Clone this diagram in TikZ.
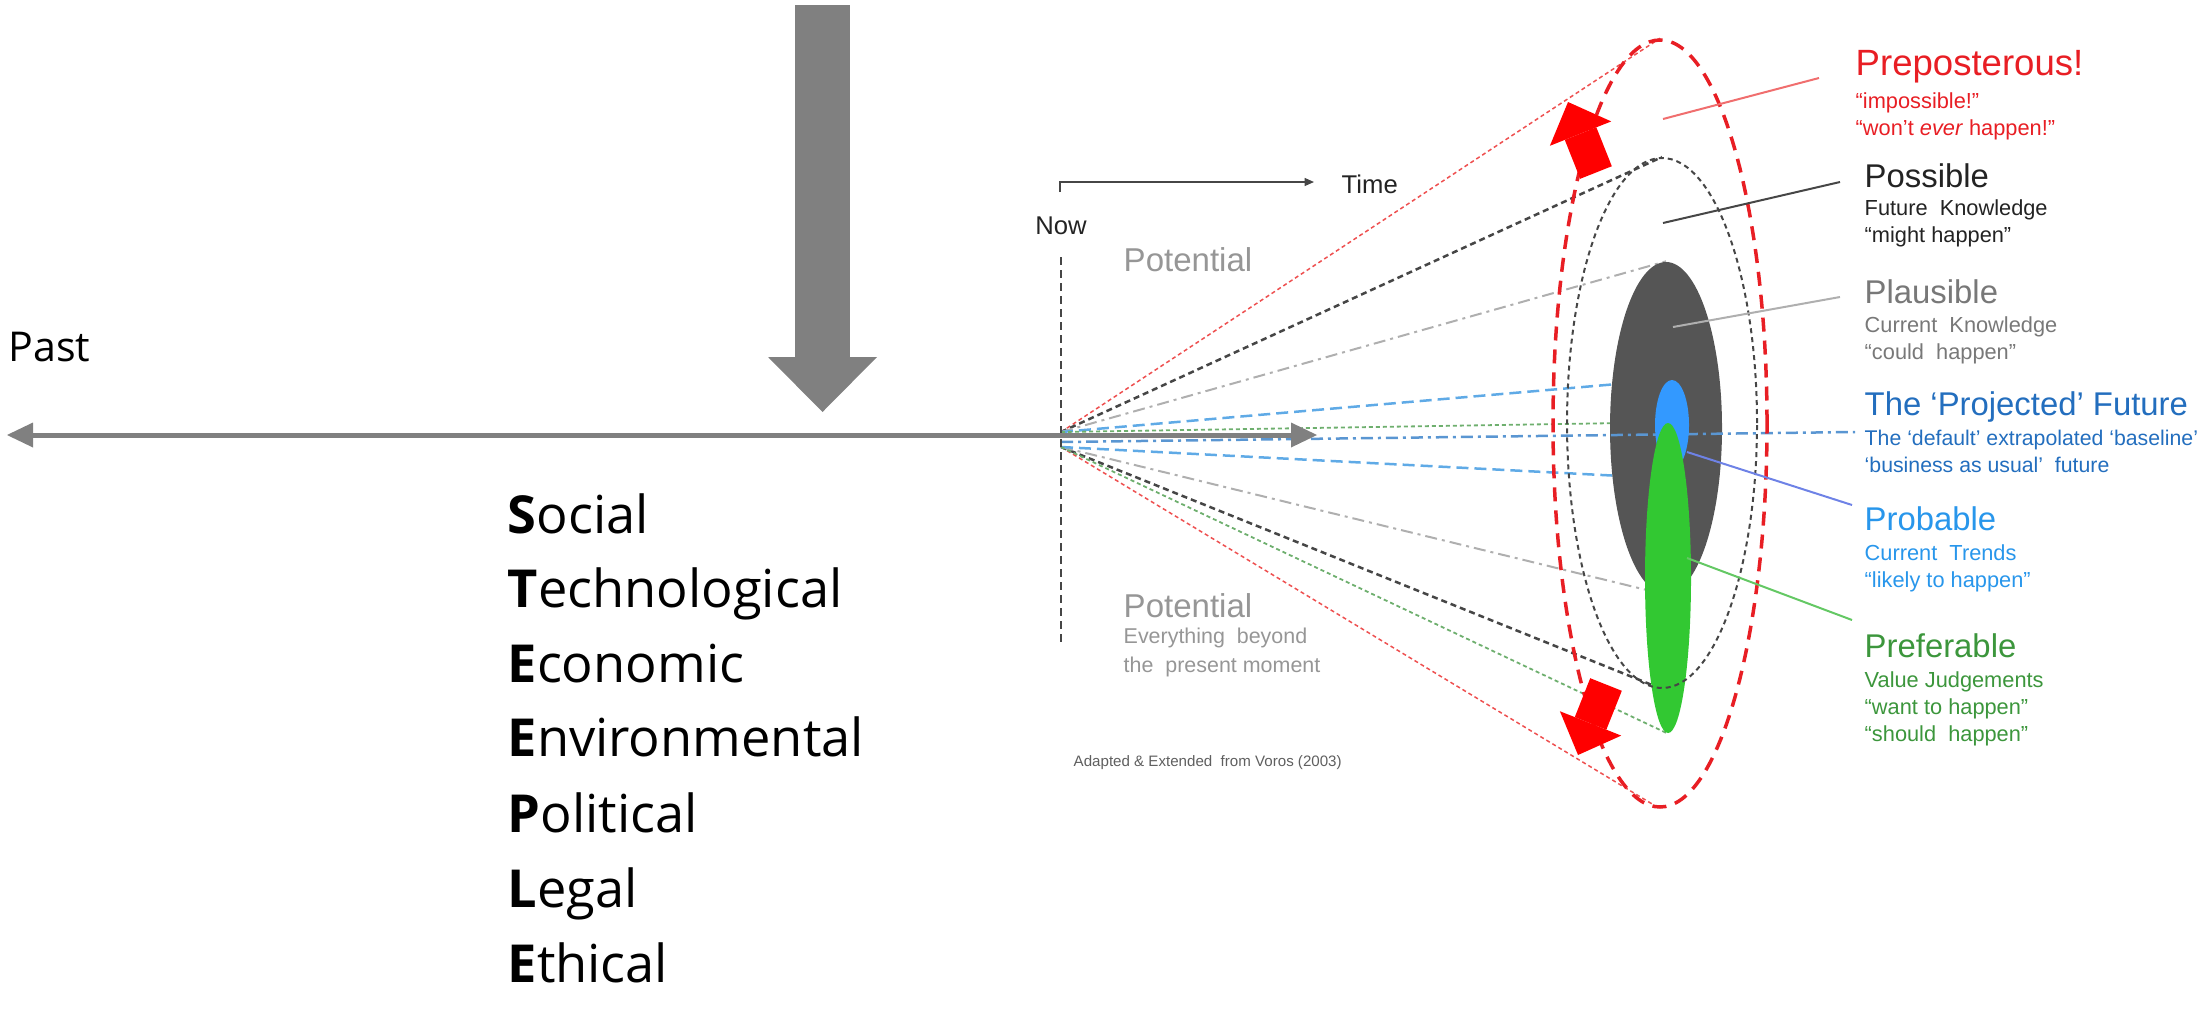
\documentclass[tikz,border=0pt]{standalone}
\usepackage{fontspec}
\setmainfont{Open Sans}
\newfontfamily\vorosfont{Liberation Sans}
\usetikzlibrary{shapes.geometric, arrows.meta, backgrounds}

\definecolor{axisgrey}{RGB}{128,128,128}
\definecolor{prepred}{RGB}{232,30,36}
\definecolor{leadred}{RGB}{240,110,110}
\definecolor{fanredc}{RGB}{238,80,80}
\definecolor{possdark}{RGB}{35,35,35}
\definecolor{fanblackc}{RGB}{70,70,70}
\definecolor{plausgrey}{RGB}{120,120,120}
\definecolor{fangreyc}{RGB}{175,175,175}
\definecolor{plausfill}{RGB}{85,85,85}
\definecolor{projblue}{RGB}{35,110,190}
\definecolor{probblue}{RGB}{40,150,235}
\definecolor{probfill}{RGB}{51,153,255}
\definecolor{fanbluec}{RGB}{95,170,230}
\definecolor{fanprojc}{RGB}{90,150,210}
\definecolor{leadblue}{RGB}{110,130,230}
\definecolor{prefgreen}{RGB}{60,150,60}
\definecolor{preffill}{RGB}{50,200,50}
\definecolor{fangreenc}{RGB}{110,175,110}
\definecolor{leadgreen}{RGB}{100,200,100}
\definecolor{potgrey}{RGB}{150,150,150}
\definecolor{creditgrey}{RGB}{95,95,95}

\tikzstyle{pastlabel} = [anchor=base west, inner sep=0pt, font=\fontsize{11.7}{14}\selectfont]
\tikzstyle{steeple} = [anchor=base west, inner sep=0pt, font=\fontsize{14.9}{18}\selectfont]
\tikzstyle{timeline} = [axisgrey, line width=0.5mm, arrows={Triangle[length=2.6mm,width=2.5mm,line width=0pt]-Triangle[length=2.6mm,width=2.5mm,line width=0pt]}]
\tikzstyle{timearrow} = [fanblackc, line width=0.15mm, -{Triangle[length=0.95mm,width=0.8mm]}]
\tikzstyle{conetext} = [inner sep=0pt, text=possdark, font=\vorosfont\fontsize{7.3}{9}\selectfont]
\tikzstyle{potential} = [anchor=base west, inner sep=0pt, text=potgrey, font=\vorosfont\fontsize{9.4}{11}\selectfont]
\tikzstyle{potentialsub} = [anchor=north west, inner sep=0pt, align=left, text=potgrey, font=\vorosfont\fontsize{6.1}{8.2}\selectfont]
\tikzstyle{credit} = [anchor=west, inner sep=0pt, text=creditgrey, font=\vorosfont\fontsize{4.3}{5}\selectfont]
\tikzstyle{heading} = [anchor=base west, inner sep=0pt, font=\vorosfont\fontsize{9.35}{11}\selectfont]
\tikzstyle{subtext} = [anchor=north west, inner sep=0pt, align=left, font=\vorosfont\fontsize{6.2}{7.6}\selectfont]
\tikzstyle{ring} = [ellipse, inner sep=0pt]
\tikzstyle{leader} = [line width=0.2mm]
\tikzstyle{fanred} = [fanredc, line width=0.15mm, dash pattern=on 0.4mm off 0.3mm]
\tikzstyle{fanblack} = [fanblackc, line width=0.25mm, dash pattern=on 0.6mm off 0.4mm]
\tikzstyle{fangrey} = [fangreyc, line width=0.2mm, dash pattern=on 1.2mm off 0.5mm on 0.3mm off 0.5mm]
\tikzstyle{fanblue} = [fanbluec, line width=0.25mm, dash pattern=on 1.2mm off 0.6mm]
\tikzstyle{fangreen} = [fangreenc, line width=0.18mm, dash pattern=on 0.4mm off 0.3mm]
\tikzstyle{fanproj} = [fanprojc, line width=0.25mm, dash pattern=on 1.2mm off 0.5mm on 0.3mm off 0.5mm]

\begin{document}
\begin{tikzpicture}[x=0.1mm, y=-0.1mm]
    \useasboundingbox (0,0) rectangle (2207,1015);

    % Coordinates
    \coordinate (pastend) at (7,435);
    \coordinate (nowend) at (1317,435);
    \coordinate (forcetop) at (822.5,5);
    \coordinate (forcetip) at (822.5,412);
    \coordinate (timetick) at (1060,192);
    \coordinate (timehead) at (1314,182);
    \coordinate (nowtop) at (1061,257);
    \coordinate (nowbottom) at (1061,645);
    \coordinate (originup) at (1061,432);
    \coordinate (originmid) at (1061,442);
    \coordinate (originlow) at (1061,447);
    \coordinate (projend) at (1855,432);
    \coordinate (probablelow) at (1660,478);
    \coordinate (uptail) at (1596,172.5);
    \coordinate (uptip) at (1568,102);
    \coordinate (downtail) at (1606,684.5);
    \coordinate (downtip) at (1578,755);

    % Nodes
    \node (past) [pastlabel] at (8,361) {Past};
    \node (social) [steeple] at (507,533) {\textbf{S}ocial};
    \node (technological) [steeple] at (507,607) {\textbf{T}echnological};
    \node (economic) [steeple] at (507,682) {\textbf{E}conomic};
    \node (environmental) [steeple] at (507,756) {\textbf{E}nvironmental};
    \node (political) [steeple] at (507,832) {\textbf{P}olitical};
    \node (legal) [steeple] at (507,907) {\textbf{L}egal};
    \node (ethical) [steeple] at (507,982) {\textbf{E}thical};

    \node (nowlbl) [conetext] at (1061,226) {Now};
    \node (timelbl) [conetext, anchor=west] at (1341,184) {Time};
    \node (potentialup) [potential] at (1123,271) {Potential};
    \node (potentiallow) [potential] at (1123,617) {Potential};
    \node (potentialsub) [potentialsub] at (1123,627.5) {Everything\ \ beyond\\the\ \ present moment};
    \node (voros) [credit] at (1073,763) {Adapted \& Extended\ \ from Voros (2003)};

    % Cone of futures
    \node (plausibleell) [ring, fill=plausfill, minimum width=11.2mm, minimum height=33.2mm] at (1666,428) {};
    \draw [fanproj] (originmid) -- (projend);
    \node (probableell) [ring, fill=probfill, minimum width=3.4mm, minimum height=9mm] at (1672,425) {};
    \node (preferableell) [ring, fill=preffill, minimum width=4.6mm, minimum height=31mm] at (1668,578) {};
    \node (possibleell) [ring, draw=fanblackc, line width=0.2mm, dash pattern=on 0.5mm off 0.4mm, minimum width=19mm, minimum height=53mm] at (1662,423) {};
    \node (preposterousell) [ring, draw=prepred, line width=0.35mm, dash pattern=on 1.4mm off 0.9mm, minimum width=21.4mm, minimum height=76.7mm] at (1660,423.5) {};

    % Labels
    \node (preposterous) [heading, text=prepred, font=\vorosfont\fontsize{10.4}{12}\selectfont] at (1855,75) {Preposterous!};
    \node (preposteroussub) [subtext, text=prepred] at (1855,92.3) {“impossible!”\\“won’t \textit{ever} happen!”};
    \node (possible) [heading, text=possdark] at (1864,187) {Possible};
    \node (possiblesub) [subtext, text=possdark] at (1864,199.3) {Future\ \ Knowledge\\“might happen”};
    \node (plausible) [heading, text=plausgrey] at (1864,303) {Plausible};
    \node (plausiblesub) [subtext, text=plausgrey] at (1864,316.3) {Current\ \ Knowledge\\“could\ \ happen”};
    \node (projected) [heading, text=projblue] at (1864,415) {The ‘Projected’ Future};
    \node (projectedsub) [subtext, text=projblue, font=\vorosfont\fontsize{6.05}{7.6}\selectfont] at (1864,429.3) {The ‘default’ extrapolated ‘baseline’\\‘business as usual’\ \ future};
    \node (probable) [heading, text=probblue] at (1864,530) {Probable};
    \node (probablesub) [subtext, text=probblue] at (1864,544.3) {Current\ \ Trends\\“likely to happen”};
    \node (preferable) [heading, text=prefgreen] at (1864,657) {Preferable};
    \node (preferablesub) [subtext, text=prefgreen] at (1864,671.3) {Value Judgements\\“want to happen”\\“should\ \ happen”};

    % Fan
    \begin{scope}[on background layer]
        \draw [fanred] (originup) -- (preposterousell.north);
        \draw [fanred] (originlow) -- (preposterousell.south);
        \draw [fanblack] (originup) -- (possibleell.north);
        \draw [fanblack] (originlow) -- (possibleell.south);
        \draw [fangrey] (originup) -- (plausibleell.north);
        \draw [fangrey] (originlow) -- (plausibleell.south);
        \draw [fanblue] (originup) -- (probableell.north);
        \draw [fanblue] (originlow) -- (probablelow);
        \draw [fangreen] (originup) -- (preferableell.north);
        \draw [fangreen] (originlow) -- (preferableell.south);
    \end{scope}

    % Arrows
    \draw [fanblackc, line width=0.15mm, dash pattern=on 0.8mm off 0.5mm] (nowtop) -- (nowbottom);
    \draw [timearrow] (timetick) |- (timehead);
    \draw [timeline] (pastend) -- (nowend);
    \draw [axisgrey, line width=5.5mm, -{Triangle[length=5.5mm,width=10.9mm,line width=0pt]}] (forcetop) -- (forcetip);
    \draw [red, line width=3.4mm, -{Triangle[length=3.4mm,width=6.6mm,line width=0pt]}] (uptail) -- (uptip);
    \draw [red, line width=3.4mm, -{Triangle[length=3.4mm,width=6.6mm,line width=0pt]}] (downtail) -- (downtip);

    % Leaders
    \coordinate (prepfoot) at (1663,119);
    \coordinate (prephead) at (1819,78);
    \coordinate (possfoot) at (1663,223);
    \coordinate (posshead) at (1840,182);
    \coordinate (plausfoot) at (1673,327);
    \coordinate (plaushead) at (1840,297);
    \coordinate (probfoot) at (1687,452);
    \coordinate (probhead) at (1852,505);
    \coordinate (preffoot) at (1687,558);
    \coordinate (prefhead) at (1852,620);
    \draw [leader, leadred] (prepfoot) -- (prephead);
    \draw [leader, fanblackc] (possfoot) -- (posshead);
    \draw [leader, fangreyc] (plausfoot) -- (plaushead);
    \draw [leader, leadblue] (probfoot) -- (probhead);
    \draw [leader, leadgreen] (preffoot) -- (prefhead);

\end{tikzpicture}
\end{document}
